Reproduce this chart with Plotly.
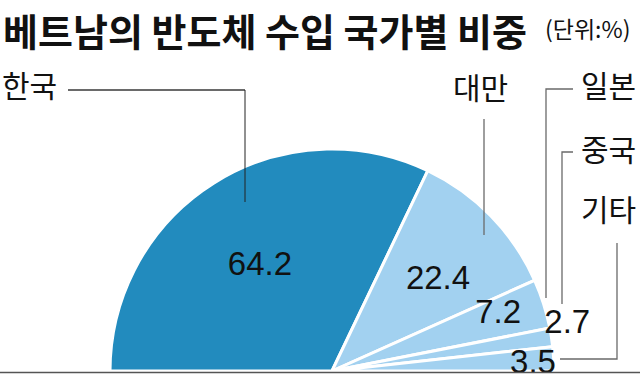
import plotly.graph_objects as go

# ---- data ----
countries = ["한국", "대만", "일본", "중국", "기타"]
shares = [64.2, 22.4, 7.2, 2.7, 3.5]
value_labels = ["64.2", "22.4", "7.2", "2.7", "3.5"]
title_text = "베트남의 반도체 수입 국가별 비중"
unit_text = "(단위:%)"

# ---- style ----
W, H = 640, 379
colors = ["#228BBE", "#A2D1F0", "#A2D1F0", "#A2D1F0", "#A2D1F0"]
label_r = [0.57, 0.626, 0.79, 1.08, 0.906]
label_nudge = [-2.5, 4.0, -1.0, -2.4, 1.3]
CJK = "Noto Sans CJK KR"
NUM = "Liberation Sans Narrow, Arial Narrow, Liberation Sans, Arial, sans-serif"
R_MAX = 1.15

# angles (half pie: 100% -> 180 degrees)
deg = [v * 1.8 for v in shares]
starts = []
acc = 0.0
for d in deg:
    starts.append(acc)
    acc += d
mids = [s + d / 2 for s, d in zip(starts, deg)]

fig = go.Figure()
fig.add_trace(go.Barpolar(
    r=[1] * len(shares), theta=mids, width=deg,
    marker=dict(color=colors, line=dict(color="white", width=3)),
    hoverinfo="skip", showlegend=False,
))
fig.add_trace(go.Scatterpolar(
    r=label_r, theta=[m + n for m, n in zip(mids, label_nudge)],
    mode="text", text=value_labels, textposition="middle center",
    textfont=dict(family=NUM, size=33, color="#111111"),
    cliponaxis=False, hoverinfo="skip", showlegend=False,
))

cx, cy = 332, 371
r_px = 222 * R_MAX
fig.update_layout(
    width=W, height=H,
    margin=dict(l=0, r=0, t=0, b=0),
    paper_bgcolor="white",
    polar=dict(
        domain=dict(x=[(cx - r_px) / W, (cx + r_px) / W],
                    y=[(H - cy) / H, (H - cy + r_px) / H]),
        sector=[0, 180],
        bgcolor="rgba(0,0,0,0)",
        bargap=0,
        radialaxis=dict(range=[0, R_MAX], visible=False),
        angularaxis=dict(direction="clockwise", rotation=180, visible=False,
                         showgrid=False, showline=False, showticklabels=False),
    ),
)

def px(x):
    return x / W

def py(y):
    return 1 - y / H

ann = []
ann.append(dict(text="<b>" + title_text + "</b>", x=px(1), y=1, xanchor="left", yanchor="top",
                align="left", font=dict(family=CJK, size=38, color="#111111")))
ann.append(dict(text=unit_text, x=px(543), y=py(31), xanchor="left", yanchor="middle",
                align="left", yshift=3, font=dict(family=CJK, size=23, color="#111111")))
cat_pos = [(0, 90, "left"), (480, 92, "center"), (638, 90, "right"), (638, 154, "right"), (638, 214, "right")]
for name, (x, y, anc) in zip(countries, cat_pos):
    ann.append(dict(text=name, x=px(x), y=py(y), xanchor=anc, yanchor="middle", align=anc,
                    yshift=6, font=dict(family=CJK, size=30, color="#111111")))
for a in ann:
    a.update(xref="paper", yref="paper", showarrow=False)
fig.update_layout(annotations=ann)

LC = "#6a6a6a"
leaders = [
    ([(68, 90), (245, 90)], LC, 2),
    ([(245, 90), (245, 202)], "#222222", 1),
    ([(484, 119), (484, 235)], LC, 1.3),
    ([(573, 89), (546, 89), (546, 298)], LC, 1.3),
    ([(573, 152), (562, 152), (562, 304)], LC, 1.3),
    ([(617, 243), (617, 359), (560, 359)], LC, 1.3),
]
shapes = []
for pts, col, w in leaders:
    path = "M " + " L ".join(f"{px(x)},{py(y)}" for x, y in pts)
    shapes.append(dict(type="path", path=path, xref="paper", yref="paper",
                       line=dict(color=col, width=w)))
shapes.append(dict(type="line", x0=0, x1=1, y0=py(372.5), y1=py(372.5), xref="paper", yref="paper",
                   line=dict(color="#555555", width=1.5)))
fig.update_layout(shapes=shapes)

fig.write_html("out.html", config={"displayModeBar": False},
               post_script="document.body.style.margin='0';document.body.style.overflow='hidden';")
